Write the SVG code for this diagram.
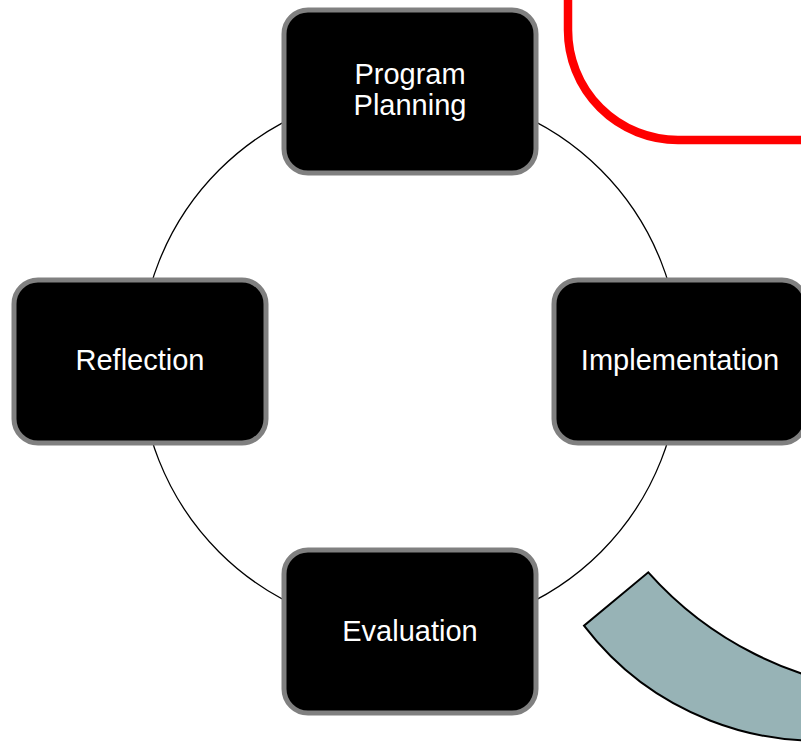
<svg xmlns="http://www.w3.org/2000/svg" width="801" height="742" viewBox="0 0 801 742">
  <style>
    .node rect { fill: #000000; stroke: #808080; stroke-width: 5; }
    .node text { fill: #ffffff; font-family: "Liberation Sans", Arial, sans-serif; font-size: 29px; text-anchor: middle; }
    .ring { fill: none; stroke: #000000; stroke-width: 1.3; }
  </style>
  <rect width="801" height="742" fill="#ffffff"/>

  <!-- red rounded frame, partly off the canvas -->
  <rect x="568" y="-220" width="420" height="360" rx="110" ry="110" fill="none" stroke="#ff0000" stroke-width="8.5"/>

  <!-- teal curved band -->
  <path d="M 648.3 572.3 A 357 357 0 0 0 883.9 690.6 L 866.8 736.1 A 292.5 292.5 0 0 1 584 625.7 Z"
        fill="#97b3b6" stroke="#000000" stroke-width="2" stroke-linejoin="miter"/>

  <!-- connectors: cycle ring through the node centres -->
  <g id="connectors">
    <circle class="ring" cx="410" cy="361" r="270"/>
  </g>

  <g id="node-program-planning" class="node">
    <rect x="284" y="10" width="252" height="163" rx="24" ry="24"/>
    <text x="410" y="84">Program</text>
    <text x="410" y="115">Planning</text>
  </g>

  <g id="node-implementation" class="node">
    <rect x="554" y="280" width="252" height="163" rx="24" ry="24"/>
    <text x="680" y="370">Implementation</text>
  </g>

  <g id="node-evaluation" class="node">
    <rect x="284" y="550" width="252" height="163" rx="24" ry="24"/>
    <text x="410" y="641">Evaluation</text>
  </g>

  <g id="node-reflection" class="node">
    <rect x="14" y="280" width="252" height="163" rx="24" ry="24"/>
    <text x="140" y="370">Reflection</text>
  </g>
</svg>
